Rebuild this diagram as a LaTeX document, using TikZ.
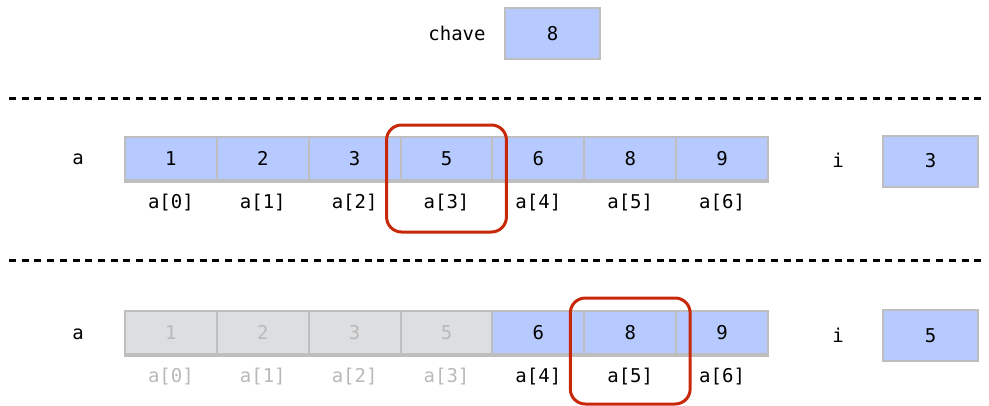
\documentclass[tikz,border=0pt]{standalone}
\usepackage{fontspec}
\setmonofont{DejaVu Sans Mono}
\usetikzlibrary{calc}
\definecolor{cellblue}{RGB}{182,202,255}
\definecolor{cellgray}{RGB}{221,222,224}
\definecolor{linegray}{RGB}{190,190,190}
\definecolor{fadetext}{RGB}{185,185,185}
\definecolor{hlred}{RGB}{200,40,10}

\begin{document}
\begin{tikzpicture}[x=1pt,y=-1pt,
  txt/.style={font=\ttfamily\fontsize{19}{22}\selectfont,inner sep=0pt},
  cell/.style={txt,draw=linegray,line width=2pt,fill=cellblue,minimum width=91.86pt,minimum height=43pt},
  past/.style={fill=cellgray,text=fadetext},
  pasttxt/.style={text=fadetext},
  live/.style={},
  var/.style={txt,draw=linegray,line width=2pt,fill=cellblue,minimum width=95pt,minimum height=51pt},
  hl/.style={draw=hlred,line width=3pt,rounded corners=15pt},
  sep/.style={line width=3pt,dash pattern=on 7pt off 5.7pt}]
  \useasboundingbox (0,0) rectangle (989,405);
  % chave
  \node[txt] (chavelbl) at (457,33) {chave};
  \node[var] (chave) at (552.5,33.5) {8};
  \draw[sep] (9,98) -- (985,98);
  % first step: i = 3
  \node[txt] (arr1) at (78,159.5) {a};
  \foreach \v [count=\k from 0] in {1,2,3,5,6,8,9}{
    \node[cell] (p\k) at ({170.93+91.86*\k},158.5) {\v};
    \node[txt] (pl\k) at ({170.93+91.86*\k},203) {a[\k]};
  }
  \draw[linegray,line width=3pt] (p0.south west) -- (p6.south east);
  \draw[hl] ($(p3.north west)+(-13,-11)$) rectangle ($(p3.south east)+(13,51)$);
  \node[txt] (ilbl1) at (838,160) {i};
  \node[var] (ival1) at (930.5,161) {3};
  \draw[sep] (9,260) -- (985,260);
  % second step: i = 5
  \node[txt] (arr2) at (78,334.5) {a};
  \foreach \v/\s/\t [count=\k from 0] in
      {1/past/pasttxt,2/past/pasttxt,3/past/pasttxt,5/past/pasttxt,6/live/live,8/live/live,9/live/live}{
    \node[cell,\s] (q\k) at ({170.93+91.86*\k},332.5) {\v};
    \node[txt,\t] (ql\k) at ({170.93+91.86*\k},376.5) {a[\k]};
  }
  \draw[linegray,line width=3pt] (q0.south west) -- (q6.south east);
  \draw[hl] ($(q5.north west)+(-13,-12)$) rectangle ($(q5.south east)+(13,49)$);
  \node[txt] (ilbl2) at (838,335) {i};
  \node[var] (ival2) at (930.5,335.5) {5};
\end{tikzpicture}
\end{document}
